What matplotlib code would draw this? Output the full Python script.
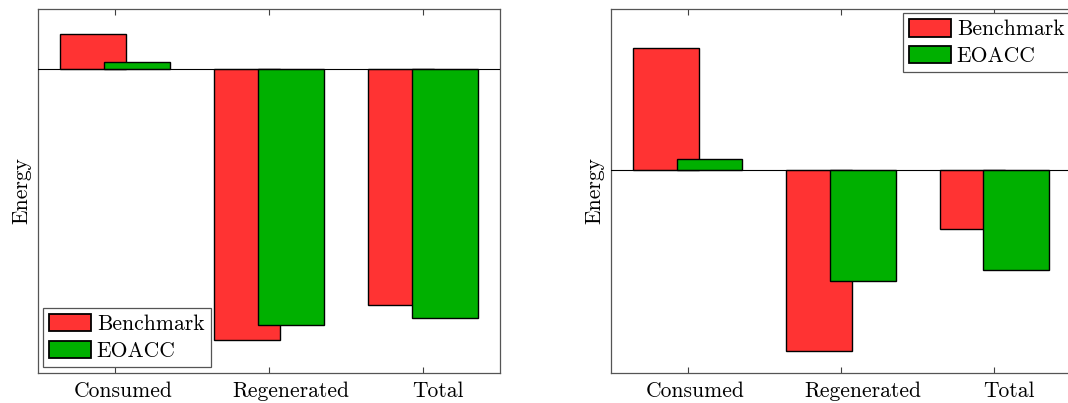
import numpy as np
import matplotlib.pyplot as plt

plt.rcParams['font.family'] = ['cmr10', 'DejaVu Serif']
plt.rcParams['axes.formatter.use_mathtext'] = True

categories = ['Consumed', 'Regenerated', 'Total']
series = ['Benchmark', 'EOACC']
colors = ['#ff3333', '#00b000']

# energy per phase, left case and right case (arbitrary units)
left_benchmark = [35, -271, -236]
left_eoacc = [7, -256, -249]
right_benchmark = [122, -181, -59]
right_eoacc = [11, -111, -100]

left_ylim = (-304, 60)
right_ylim = (-203, 161)

# shift of each category label to the right, in pixels
label_shift = [8, 22, 15]

W, H = 1068, 403
fig = plt.figure(figsize=(W / 100, H / 100), dpi=100)
ax1 = fig.add_axes([38 / W, 30 / H, 462 / W, 364 / H])
ax2 = fig.add_axes([611 / W, 30 / H, 460 / W, 364 / H])

FS = 15.5


def draw(ax, bench, eoacc, ylim, legend_loc, legend_xy):
    x = np.arange(1, len(categories) + 1)
    off = 1 / 7
    w = 3 / 7
    ax.bar(x - off, bench, w, color=colors[0], edgecolor='black',
           linewidth=1.0, label=series[0], zorder=2)
    ax.bar(x + off, eoacc, w, color=colors[1], edgecolor='black',
           linewidth=1.0, label=series[1], zorder=3)
    ax.axhline(0, color='black', linewidth=0.8, zorder=4)
    ax.set_xlim(0.5, 3.5)
    ax.set_ylim(*ylim)
    ax.set_yticks([])
    ax.set_xticks(x)
    ax.set_xticklabels([])
    # category names, drawn as text so they can sit off the tick a bit
    for xi, name, dx in zip(x, categories, label_shift):
        ax.annotate(name, (xi, 0), xycoords=ax.get_xaxis_transform(),
                    xytext=(dx * 0.72, -6), textcoords='offset points',
                    ha='center', va='top', fontsize=FS)
    ax.tick_params(axis='x', direction='in', length=4, width=0.8,
                   color='#404040', top=True)
    for s in ax.spines.values():
        s.set_color('#555555')
        s.set_linewidth(0.9)
    ax.set_ylabel('Energy', fontsize=FS, labelpad=5)
    leg = ax.legend(loc=legend_loc, bbox_to_anchor=legend_xy,
                    bbox_transform=fig.transFigure, fontsize=FS,
                    fancybox=False, framealpha=1, edgecolor='#555555',
                    handlelength=1.95, handleheight=0.85, handletextpad=0.25,
                    labelspacing=0.3, borderpad=0.3, borderaxespad=0)
    leg.get_frame().set_linewidth(0.9)
    for h in leg.legend_handles:
        h.set_linewidth(1.3)
    return ax


draw(ax1, left_benchmark, left_eoacc, left_ylim, 'lower left',
     (43 / W, 1 - 367 / H))
draw(ax2, right_benchmark, right_eoacc, right_ylim, 'upper left',
     (903 / W, 1 - 13 / H))

fig.savefig('out.png', dpi=100)
